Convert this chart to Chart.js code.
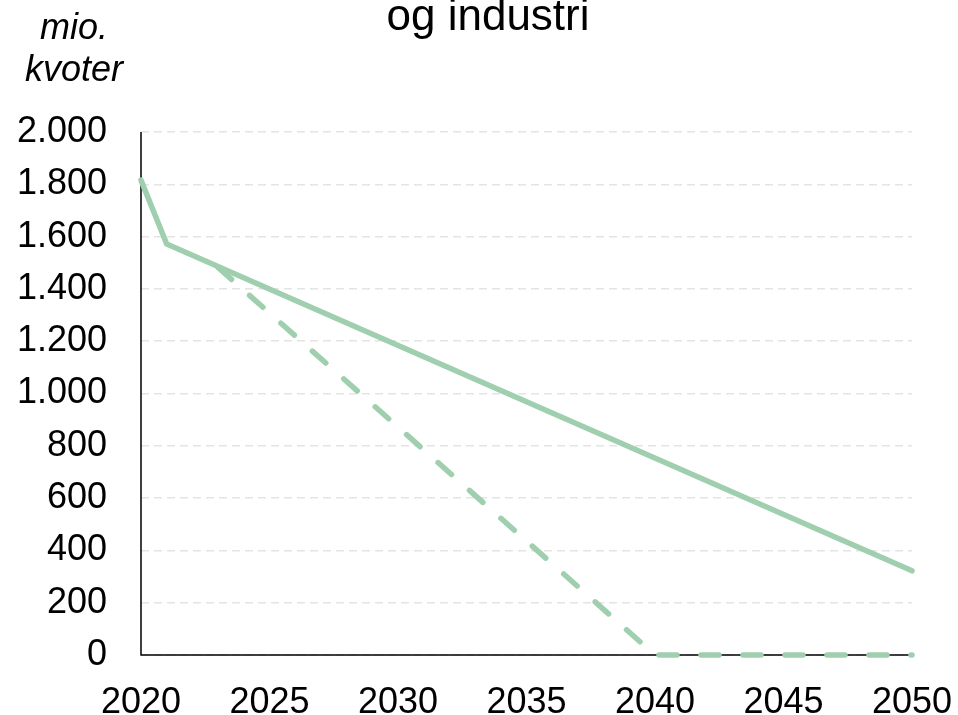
<!DOCTYPE html>
<html>
<head>
<meta charset="utf-8">
<script src="https://cdn.jsdelivr.net/npm/chart.js@4"></script>
<style>
  body { margin: 0; background: #fff; }
  #wrap { width: 958px; height: 715px; }
</style>
</head>
<body>
<div id="wrap"><canvas id="kvoteChart"></canvas></div>
<script>
// data
var titleText = 'og industri';
var axisTitle = ['mio.', 'kvoter'];
var solidYears = [2020, 2021, 2050];
var solidValues = [1816, 1572, 322];
var dashYears = [2023, 2040, 2050];
var dashValues = [1482, 0, 0];

var green = '#9fcfae';
var font = "'Liberation Sans', Arial, sans-serif";

function toPoints(xs, ys) {
    return xs.map(function (x, i) { return { x: x, y: ys[i] }; });
}

function fmt(v) {
    return String(v).replace(/\B(?=(\d{3})+(?!\d))/g, '.');
}

// solid black axis lines, title and y-axis caption
var textPlugin = {
    id: 'texts',
    beforeDatasetsDraw: function (chart) {
        var a = chart.chartArea;
        var c = chart.ctx;
        c.save();
        c.strokeStyle = '#000';
        c.lineWidth = 1.5;
        c.setLineDash([]);
        c.beginPath();
        c.moveTo(a.left, a.top);
        c.lineTo(a.left, a.bottom);
        c.lineTo(a.right, a.bottom);
        c.stroke();
        c.restore();
    },
    afterDraw: function (chart) {
        var c = chart.ctx;
        c.save();
        c.fillStyle = '#000';
        c.textAlign = 'center';
        c.textBaseline = 'alphabetic';
        c.font = '44px ' + font;
        c.fillText(titleText, 488, 30);
        c.font = 'italic 36px ' + font;
        c.fillText(axisTitle[0], 74, 39);
        c.fillText(axisTitle[1], 74, 81);
        c.restore();
    }
};

var ctx = document.getElementById('kvoteChart').getContext('2d');
var chart = new Chart(ctx, {
    type: 'line',
    data: {
        datasets: [{
            data: toPoints(solidYears, solidValues),
            borderColor: green,
            borderWidth: 5.5,
            borderCapStyle: 'round',
            borderJoinStyle: 'round',
            pointRadius: 0,
            tension: 0,
            clip: 10
        }, {
            data: toPoints(dashYears, dashValues),
            borderColor: green,
            borderWidth: 5.5,
            borderDash: [18, 24],
            borderCapStyle: 'round',
            pointRadius: 0,
            tension: 0,
            clip: 10
        }]
    },
    options: {
        responsive: true,
        maintainAspectRatio: false,
        animation: false,
        layout: { padding: { top: 132, right: 46, left: 0, bottom: 0 } },
        plugins: {
            legend: { display: false },
            tooltip: { enabled: false }
        },
        scales: {
            x: {
                type: 'linear',
                min: 2020,
                max: 2050,
                grid: { display: false, drawTicks: false },
                border: { display: false },
                ticks: {
                    stepSize: 5,
                    padding: 26,
                    color: '#000',
                    font: { family: font, size: 36 },
                    callback: function (v) { return String(v); }
                },
                afterFit: function (s) {
                    s.height = 60;
                    s.paddingLeft = 0;
                    s.paddingRight = 0;
                }
            },
            y: {
                min: 0,
                max: 2000,
                grid: { color: '#e4e4e4', lineWidth: 1.5, drawTicks: false },
                border: { display: false, dash: [8, 5] },
                ticks: {
                    stepSize: 200,
                    padding: 34,
                    color: '#000',
                    font: { family: font, size: 36 },
                    callback: function (v) { return fmt(v); }
                },
                afterFit: function (s) {
                    s.width = 141;
                    s.paddingTop = 0;
                    s.paddingBottom = 0;
                }
            }
        }
    },
    plugins: [textPlugin]
});
</script>
</body>
</html>
